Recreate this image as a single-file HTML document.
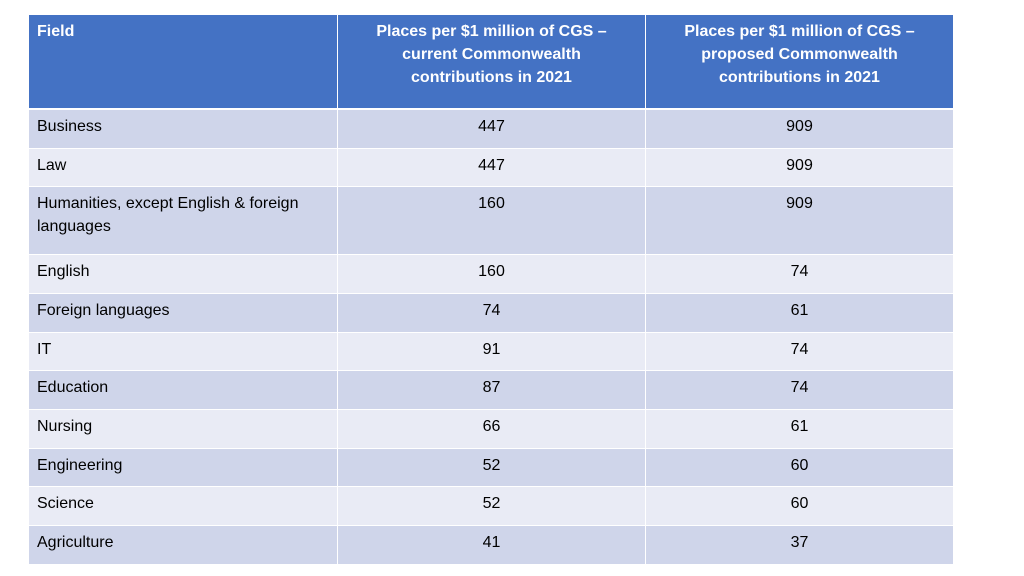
<!DOCTYPE html>
<html><head><style>
body{margin:0;width:1024px;height:576px;background:#fff;position:relative;font-family:"Liberation Sans",Calibri,sans-serif;overflow:hidden}
.c{position:absolute;box-sizing:border-box;font-size:16px;color:#000;line-height:23px;padding:5px 8px}
.h{background:#4472c4;color:#fff;font-weight:bold;text-align:center;line-height:23px;padding-top:5px}
.n{text-align:center}
</style></head><body>
<div id="t"></div>
<script>
const L=[29,338,646],W=[308,307,307];
let h='';
h+=`<div class="c h" style="left:29px;top:15px;width:308px;height:93px;text-align:left">Field</div>`;
h+=`<div class="c h" style="left:338px;top:15px;width:307px;height:93px">Places per $1 million of CGS –<br>current Commonwealth<br>contributions in 2021</div>`;
h+=`<div class="c h" style="left:646px;top:15px;width:307px;height:93px">Places per $1 million of CGS –<br>proposed Commonwealth<br>contributions in 2021</div>`;
const rows=[["Business",447,909],["Law",447,909],["Humanities, except English &amp; foreign languages",160,909],["English",160,74],["Foreign languages",74,61],["IT",91,74],["Education",87,74],["Nursing",66,61],["Engineering",52,60],["Science",52,60],["Agriculture",41,37]];
const tops=[110,149,187,255,294,333,371,410,449,487,526,565];
rows.forEach((r,i)=>{const bg=i%2?'#e9ebf5':'#cfd5ea';const t=tops[i],ht=tops[i+1]-t-1;
for(let j=0;j<3;j++)h+=`<div class="c${j?' n':''}" style="left:${L[j]}px;top:${t}px;width:${W[j]}px;height:${ht}px;background:${bg}">${r[j]}</div>`;});
document.getElementById('t').outerHTML=h;
</script>
</body></html>
